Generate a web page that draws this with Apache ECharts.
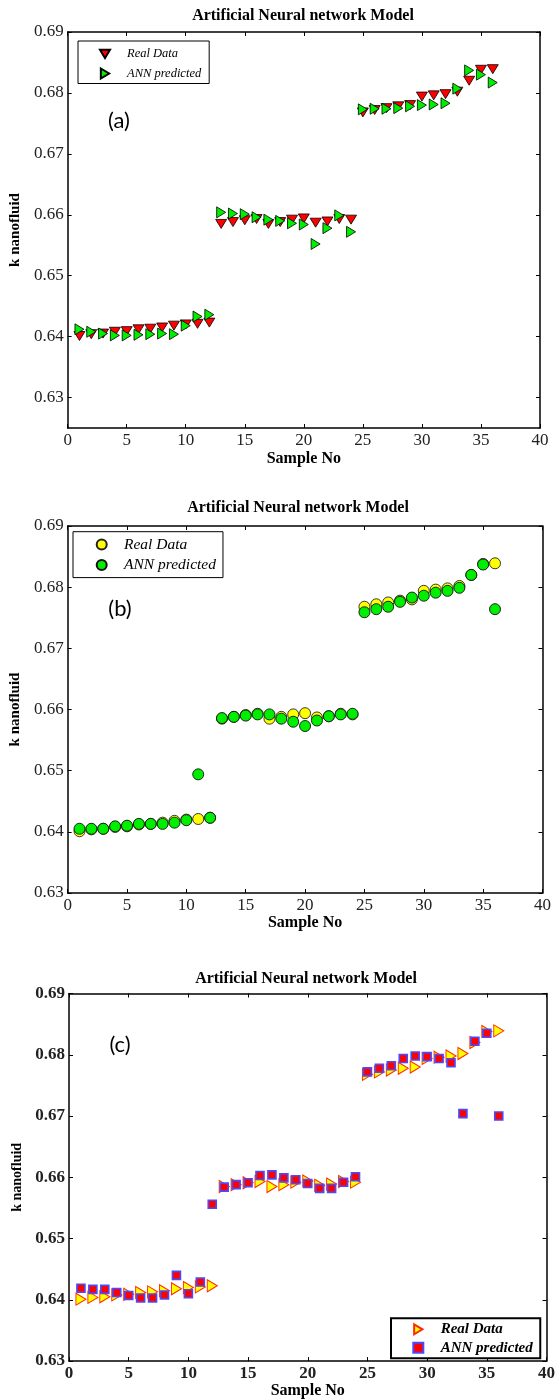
<!DOCTYPE html>
<html><head><meta charset="utf-8">
<script src="https://cdn.jsdelivr.net/npm/echarts@6/dist/echarts.min.js"></script>
<style>html,body{margin:0;padding:0;background:#fff}#c{width:558px;height:1400px}</style>
</head><body><div id="c"></div>
<script>
// ---------------- data ----------------
const sampleNo = [1,2,3,4,5,6,7,8,9,10,11,12,13,14,15,16,17,18,19,20,21,22,23,24,25,26,27,28,29,30,31,32,33,34,35,36];
const realData = [0.6401,0.6404,0.6405,0.6408,0.6409,0.6412,0.6413,0.6415,0.6418,0.6420,0.6421,0.6423,
                  0.6585,0.6588,0.6591,0.6593,0.6585,0.6588,0.6592,0.6594,0.6587,0.6589,0.6593,0.6592,
                  0.6768,0.6772,0.6775,0.6778,0.6780,0.6794,0.6796,0.6798,0.6802,0.6820,0.6838,0.6839];
const annPredA = [0.6412,0.6408,0.6405,0.6402,0.6402,0.6403,0.6404,0.6405,0.6404,0.6418,0.6433,0.6436,
                  0.6604,0.6602,0.6601,0.6596,0.6592,0.6590,0.6586,0.6584,0.6552,0.6578,0.6599,0.6572,
                  0.6773,0.6774,0.6774,0.6775,0.6778,0.6780,0.6781,0.6783,0.6807,0.6837,0.6830,0.6817];
const annPredB = [0.6405,0.6405,0.6405,0.6409,0.6410,0.6413,0.6413,0.6413,0.6415,0.6419,0.6494,0.6423,
                  0.6586,0.6588,0.6590,0.6592,0.6592,0.6585,0.6580,0.6573,0.6582,0.6589,0.6592,0.6593,
                  0.6759,0.6764,0.6768,0.6776,0.6783,0.6786,0.6791,0.6794,0.6799,0.6820,0.6837,0.6764];
const annPredC = [0.6419,0.6417,0.6417,0.6412,0.6407,0.6403,0.6403,0.6408,0.6440,0.6410,0.6429,0.6556,
                  0.6584,0.6588,0.6591,0.6603,0.6604,0.6599,0.6596,0.6590,0.6582,0.6582,0.6592,0.6601,
                  0.6772,0.6778,0.6782,0.6794,0.6798,0.6797,0.6794,0.6787,0.6704,0.6822,0.6835,0.6700];
const yTickValues = [0.63,0.64,0.65,0.66,0.67,0.68,0.69];
const xTickInterval = 5;
const titleText = 'Artificial Neural network Model';
const xName = 'Sample No';
const yName = 'k nanofluid';
const panelTags = ['(a)','(b)','(c)'];
const legendNames = ['Real Data','ANN predicted'];

// ---------------- layout/style ----------------
const SERIF = "'Liberation Serif','Times New Roman',serif";
const toPts = arr => sampleNo.map((s,i)=>[s, arr[i]]);
const triDown = 'path://M0,0L12,0L6,10Z';
const triRight = 'path://M0,0L10,6L0,12Z';

const panels = [
  {grid:{left:66.5, top:32, width:473.5, height:396}, yMin:0.625, yMax:0.69, bold:false, xGap:23, yGap:37, yNameSize:15,
   titleX:303, titleY:16, tagX:119, tagY:121, suffix:'',
   legend:{left:78, top:41, padding:[6.5,8,3.5,21], itemGap:6.5, textPad:12, fontSize:12.5, bold:false, borderWidth:1},
   series:[
     {data:realData, symbol:triDown, size:[11,9], color:'#ff0000', border:'#000', bw:0.8, legendIdx:0},
     {data:annPredA, symbol:triRight, size:[9,11], color:'#00ee00', border:'#000', bw:0.8, legendIdx:1}
   ]},
  {grid:{left:67.5, top:526, width:475, height:367}, yMin:0.63, yMax:0.69, bold:false, xGap:22, yGap:37, yNameSize:15,
   titleX:298, titleY:508, tagX:120, tagY:609, suffix:' ',
   legend:{left:73, top:531.7, padding:[4.8,7,4.6,22.7], itemGap:4.5, textPad:12.3, fontSize:15.5, bold:false, borderWidth:1},
   series:[
     {data:realData, symbol:'circle', size:11, color:'#ffff00', border:'#222', bw:0.9, legendIdx:0},
     {data:annPredB, symbol:'circle', size:11, color:'#00ee00', border:'#111', bw:0.9, legendIdx:1}
   ]},
  {grid:{left:69, top:993.5, width:478.5, height:370.5}, yMin:0.63, yMax:0.69, bold:true, xGap:21, yGap:38, yNameSize:14,
   titleX:306, titleY:979, tagX:120, tagY:1045, suffix:'  ',
   legend:{left:391, top:1318.3, padding:[3.5,7.5,3.1,21.3], itemGap:3.4, textPad:12.4, fontSize:15, bold:true, borderWidth:2},
   series:[
     {data:realData, symbol:triRight, size:[10,12], color:'#ffff00', border:'#ff2a00', bw:1, legendIdx:0},
     {data:annPredC, symbol:'rect', size:8, color:'#ff0000', border:'#4a4aff', bw:1.6, legendIdx:1}
   ]}
];

const grid=[], xAxis=[], yAxis=[], series=[], legend=[], graphic=[];
panels.forEach((p,i)=>{
  grid.push(Object.assign({}, p.grid));
  const line = {onZero:false, lineStyle:{color:'#000', width:1.5}};
  const tick = {inside:true, length:4, lineStyle:{color:'#000', width:1}};
  const lblFont = {fontFamily:SERIF, fontSize:17, color:'#222', fontWeight:p.bold?'bold':'normal'};
  xAxis.push({gridIndex:i, type:'value', min:0, max:40, interval:xTickInterval, position:'bottom',
    axisLine:line, axisTick:tick, splitLine:{show:false},
    axisLabel:Object.assign({margin:4}, lblFont),
    name:xName, nameLocation:'middle', nameGap:p.xGap,
    nameTextStyle:{fontFamily:SERIF, fontSize:16, fontWeight:'bold', color:'#000'}});
  xAxis.push({gridIndex:i, type:'value', min:0, max:40, interval:xTickInterval, position:'top',
    axisLine:line, axisTick:tick, splitLine:{show:false}, axisLabel:{show:false}});
  yAxis.push({gridIndex:i, type:'value', min:p.yMin, max:p.yMax, position:'left',
    axisLine:line, axisTick:Object.assign({customValues:yTickValues}, tick), splitLine:{show:false},
    axisLabel:Object.assign({customValues:yTickValues, margin:4, formatter:v=>Number(v).toFixed(2)}, lblFont),
    name:yName, nameLocation:'middle', nameGap:p.yGap,
    nameTextStyle:{fontFamily:SERIF, fontSize:p.yNameSize, fontWeight:'bold', color:'#000'}});
  yAxis.push({gridIndex:i, type:'value', min:p.yMin, max:p.yMax, position:'right',
    axisLine:line, axisTick:Object.assign({customValues:yTickValues}, tick), splitLine:{show:false},
    axisLabel:{show:false}});
  const names = [];
  p.series.forEach(s=>{
    const nm = legendNames[s.legendIdx] + p.suffix;
    names.push(nm);
    series.push({type:'scatter', name:nm, xAxisIndex:2*i, yAxisIndex:2*i,
      symbol:s.symbol, symbolSize:s.size, data:toPts(s.data),
      itemStyle:{color:s.color, borderColor:s.border, borderWidth:s.bw, opacity:1},
      emphasis:{disabled:true}, z:2+s.legendIdx});
  });
  const L = p.legend;
  legend.push({data:names, orient:'vertical', left:L.left, top:L.top, padding:L.padding,
    itemGap:L.itemGap, itemWidth:10, itemHeight:10, selectedMode:false,
    borderColor:'#000', borderWidth:L.borderWidth, borderRadius:0, backgroundColor:'#fff',
    formatter:n=>n.trim(),
    textStyle:{fontFamily:SERIF, fontStyle:'italic', fontWeight:L.bold?'bold':'normal', fontSize:L.fontSize, color:'#000',
      padding:[0,0,0,L.textPad]}});
  graphic.push({type:'text', x:p.titleX, y:p.titleY, z:10,
    style:{text:titleText, fontFamily:SERIF, fontSize:16, fontWeight:'bold', fill:'#000', align:'center', verticalAlign:'middle'}});
  graphic.push({type:'text', x:p.tagX, y:p.tagY, z:10,
    style:{text:panelTags[i], fontFamily:"Lato,'Open Sans',sans-serif", fontSize:22, fill:'#000', align:'center', verticalAlign:'middle'}});
});

const chart = echarts.init(document.getElementById('c'), null, {renderer:'canvas'});
chart.setOption({animation:false, backgroundColor:'#fff', grid, xAxis, yAxis, series, legend, graphic});
</script>
</body></html>
